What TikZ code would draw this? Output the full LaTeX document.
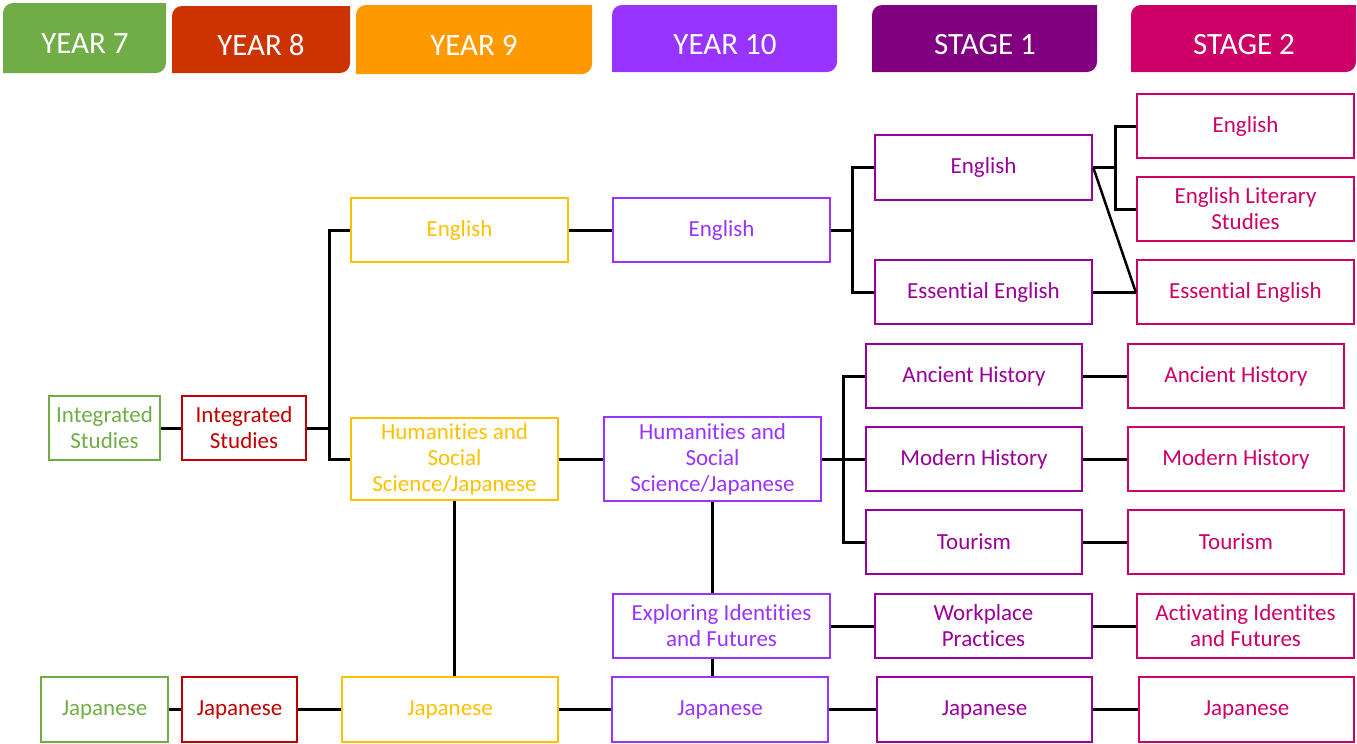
\documentclass[tikz,border=0pt]{standalone}
\usepackage{fontspec}
\setmainfont[RawFeature={-liga;-clig;-calt;-dlig}]{Carlito}
\usepackage{pgf,tikz}
\usetikzlibrary{positioning}
\definecolor{gseven}{HTML}{70AD47}
\definecolor{height}{HTML}{CC3300}
\definecolor{reight}{HTML}{C00000}
\definecolor{hnine}{HTML}{FF9900}
\definecolor{ynine}{HTML}{FFC000}
\definecolor{pten}{HTML}{9933FF}
\definecolor{hone}{HTML}{800080}
\definecolor{sone}{HTML}{990099}
\definecolor{stwo}{HTML}{CC0066}
\newcommand{\yearhead}[5]{\fill[#5] (#1,#4) -- (#1,{#3-10}) arc[start angle=180, end angle=90, radius=10pt] -- (#2,#3) -- (#2,{#4+10}) arc[start angle=0, end angle=-90, radius=10pt] -- cycle;}
\tikzstyle{course} = [draw, rectangle, line width=2.5pt, align=center, inner sep=0pt, minimum width=217pt, minimum height=64pt, font=\fontsize{23}{26}\selectfont]
\tikzstyle{yseven} = [course, draw=gseven, text=gseven]
\tikzstyle{yeight} = [course, draw=reight, text=reight]
\tikzstyle{ynine} = [course, draw=ynine, text=ynine]
\tikzstyle{yten} = [course, draw=pten, text=pten]
\tikzstyle{stageone} = [course, draw=sone, text=sone]
\tikzstyle{stagetwo} = [course, draw=stwo, text=stwo]
\tikzstyle{headtext} = [text=white, font=\fontsize{31}{36}\selectfont]
\tikzstyle{link} = [draw=black, line width=3pt]

\begin{document}
\begin{tikzpicture}[x=1pt, y=1pt]
		\useasboundingbox (0,0) rectangle (1357,-744);
		% headers
		\yearhead{3}{166}{-3}{-73}{gseven}
		\yearhead{172}{350}{-6}{-73}{height}
		\yearhead{356}{592}{-5}{-74}{hnine}
		\yearhead{612}{837}{-5}{-72}{pten}
		\yearhead{872}{1097}{-5}{-72}{hone}
		\yearhead{1131}{1356}{-5}{-72}{stwo}
		\node[headtext] (hseven) at (85,-44) {YEAR 7};
		\node[headtext] (height) at (261,-45) {YEAR 8};
		\node[headtext] (hnine) at (474,-45) {YEAR 9};
		\node[headtext] (hten) at (725,-45) {YEAR 10};
		\node[headtext] (hone) at (985,-45) {STAGE 1};
		\node[headtext] (htwo) at (1244,-45) {STAGE 2};
		% year 7 and 8
		\node[yseven, minimum width=111pt] (gint) at (104.5,-428) {Integrated\\Studies};
		\node[yseven, minimum width=127pt, minimum height=65pt] (gjap) at (104.5,-709.5) {Japanese};
		\node[yeight, minimum width=124pt] (rint) at (244,-428) {Integrated\\Studies};
		\node[yeight, minimum width=115pt, minimum height=65pt] (rjap) at (239.5,-709.5) {Japanese};
		% year 9
		\node[ynine] (yeng) at (459.5,-230) {English};
		\node[ynine, minimum width=207pt, minimum height=82pt] (yhass) at (454.5,-459) {Humanities and\\Social\\Science/Japanese};
		\node[ynine, minimum width=216pt, minimum height=65pt] (yjap) at (450,-709.5) {Japanese};
		% year 10
		\node[yten] (peng) at (721.5,-230) {English};
		\node[yten, minimum height=84pt] (phass) at (712.5,-459) {Humanities and\\Social\\Science/Japanese};
		\node[yten] (peif) at (721.5,-626) {Exploring Identities\\and Futures};
		\node[yten, minimum width=216pt, minimum height=65pt] (pjap) at (720,-709.5) {Japanese};
		% stage 1
		\node[stageone, minimum height=65pt] (seng) at (983.5,-167.5) {English};
		\node[stageone] (sess) at (983.5,-292) {Essential English};
		\node[stageone, minimum width=216pt] (sanc) at (974,-376) {Ancient History};
		\node[stageone, minimum width=216pt] (smod) at (974,-459) {Modern History};
		\node[stageone, minimum width=216pt] (stour) at (974,-542) {Tourism};
		\node[stageone] (swork) at (983.5,-626) {Workplace\\Practices};
		\node[stageone, minimum width=215pt, minimum height=65pt] (sjap) at (984.5,-709.5) {Japanese};
		% stage 2
		\node[stagetwo] (teng) at (1245.5,-126) {English};
		\node[stagetwo] (tels) at (1245.5,-209) {English Literary\\Studies};
		\node[stagetwo] (tess) at (1245.5,-292) {Essential English};
		\node[stagetwo, minimum width=216pt] (tanc) at (1236,-376) {Ancient History};
		\node[stagetwo, minimum width=216pt] (tmod) at (1236,-459) {Modern History};
		\node[stagetwo, minimum width=216pt] (ttour) at (1236,-542) {Tourism};
		\node[stagetwo] (tact) at (1245.5,-626) {Activating Identites\\and Futures};
		\node[stagetwo, minimum width=215pt, minimum height=65pt] (tjap) at (1246.5,-709.5) {Japanese};
		% forks
		\coordinate (forknine) at (329,-428);
		\coordinate (forkten) at (852,-230);
		\coordinate (forkone) at (1115,-167.5);
		\coordinate (forkhist) at (843,-459);
		% links
		\draw[link] (gint) -- (rint);
		\draw[link] (rint) -- (forknine);
		\draw[link] (yeng.west) -| (forknine) |- (yhass.west);
		\draw[link] (yeng) -- (peng);
		\draw[link] (peng) -- (forkten);
		\draw[link] (seng.west) -| (forkten) |- (sess.west);
		\draw[link] (seng) -- (forkone);
		\draw[link] (teng.west) -| (forkone) |- (tels.west);
		\draw[link, line width=2.5pt] (seng.east) -- (tess.west);
		\draw[link] (sess) -- (tess);
		\draw[link] (yhass) -- (phass);
		\draw[link] (phass) -- (smod);
		\draw[link] (sanc.west) -| (forkhist) |- (stour.west);
		\draw[link] (sanc) -- (tanc);
		\draw[link] (smod) -- (tmod);
		\draw[link] (stour) -- (ttour);
		\draw[link] (yhass.south) -- (yhass.south |- yjap.north);
		\draw[link] (phass.south) -- (phass.south |- peif.north);
		\draw[link] (phass.south |- peif.south) -- (phass.south |- pjap.north);
		\draw[link] (peif) -- (swork);
		\draw[link] (swork) -- (tact);
		\draw[link] (gjap) -- (rjap);
		\draw[link] (rjap) -- (yjap);
		\draw[link] (yjap) -- (pjap);
		\draw[link] (pjap) -- (sjap);
		\draw[link] (sjap) -- (tjap);
	\end{tikzpicture}
\end{document}
